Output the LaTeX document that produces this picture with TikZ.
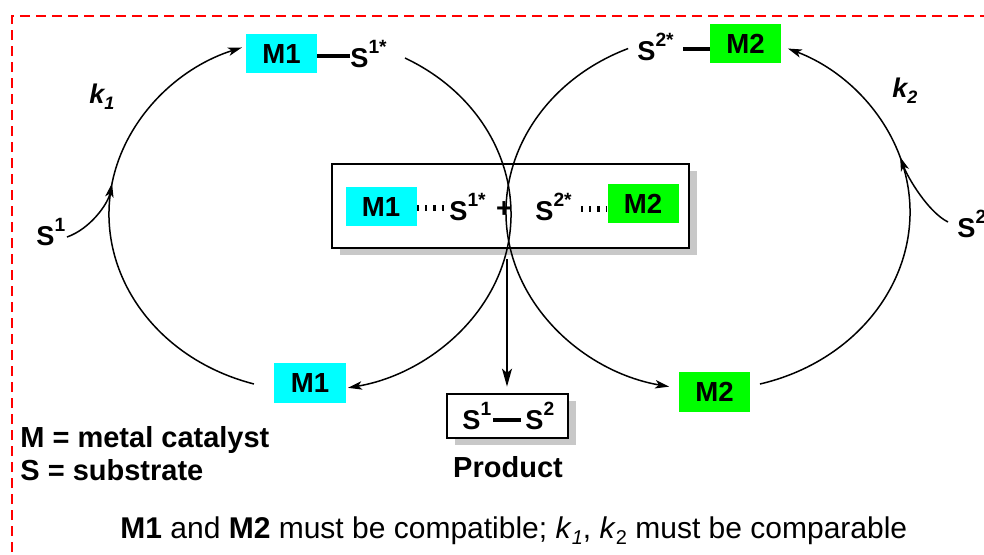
\documentclass[tikz,border=0pt]{standalone}
\usepackage{fontspec}
\setmainfont{Liberation Sans}
\usetikzlibrary{arrows.meta,shadows}
\definecolor{mcyan}{RGB}{0,255,255}
\definecolor{mgreen}{RGB}{0,255,0}
\definecolor{shadowgray}{RGB}{200,200,200}
\newcommand{\sups}[1]{\raisebox{6.6pt}{\fontsize{9.6}{10}\selectfont #1}}
\newcommand{\subsk}[1]{\raisebox{-3pt}{\fontsize{9}{10}\selectfont #1}}
\begin{document}
\begin{tikzpicture}[x=0.5pt,y=-0.5pt,
  catbox/.style={rectangle,inner sep=0pt,minimum width=35.5pt,minimum height=19.5pt,
    font=\fontsize{13.8}{15}\selectfont\bfseries},
  mone/.style={catbox,fill=mcyan},
  mtwo/.style={catbox,fill=mgreen},
  lbl/.style={inner sep=0pt,font=\fontsize{13.6}{15}\selectfont\bfseries},
  biglbl/.style={inner sep=0pt,font=\fontsize{14.5}{17}\selectfont\bfseries},
  cyc/.style={line width=0.75pt,-{Stealth[length=7pt,width=4.2pt,inset=1.8pt]}},
  bond/.style={line width=2.3pt},
  hashb/.style={line width=3.2pt,dash pattern=on 1.1pt off 3pt},
  framebox/.style={draw,line width=1pt,fill=white,rectangle,inner sep=0pt,
    drop shadow={shadow xshift=3.8pt,shadow yshift=-3.5pt,fill=shadowgray,opacity=1}},
  redframe/.style={red,line width=0.8pt,dash pattern=on 5pt off 3pt}
]
\clip (0,0) rectangle (984,554);
\fill[white] (0,0) rectangle (984,554);
% red dashed frame
\draw[redframe] (12,600) -- (12,16) -- (1000,16);

% framed boxes
\node[framebox,minimum width=178.5pt,minimum height=42pt] (cbox) at (510.5,206) {};
\node[framebox,minimum width=60.5pt,minimum height=22pt] (pbox) at (507.5,416) {};

% catalytic cycle arcs (left)
\coordinate (La) at ({310+201*cos(106.2)},{214+177*sin(106.2)});
\coordinate (Lb) at ({310+201*cos(-61.8)},{214+177*sin(-61.8)});
\draw[cyc] (La) arc[start angle=106.2,end angle=250.2,x radius=201,y radius=177];
\draw[cyc] (Lb) arc[start angle=-61.8,end angle=79.1,x radius=201,y radius=177];
% right
\coordinate (Ra) at ({708+202*cos(246.7)},{212+178*sin(246.7)});
\coordinate (Rb) at ({708+202*cos(75.1)},{212+178*sin(75.1)});
\draw[cyc] (Ra) arc[start angle=246.7,end angle=101.1,x radius=202,y radius=178];
\draw[cyc] (Rb) arc[start angle=75.1,end angle=-66.7,x radius=202,y radius=178];

% substrate entries
\coordinate (S1in) at (67,237);
\coordinate (S1on) at ({310+201*cos(190)},{214+177*sin(190)});
\draw[cyc] (S1in) .. controls (90,229) and (108,204) .. (S1on);
\coordinate (S2in) at (948,222);
\coordinate (S2on) at ({708+202*cos(-18)},{212+178*sin(-18)});
\draw[cyc] (S2in) .. controls (928,212) and (907.6,177.3) .. (S2on);

% top left
\node[mone] (M1t) at (281.5,53.5) {M1};
\node[lbl,anchor=base west] (S1t) at (350,67) {S\sups{1*}};
\draw[bond] ([yshift=-1.25pt]M1t.east) -- ([yshift=-1.25pt]M1t.east -| S1t.west);
% top right
\node[mtwo] (M2t) at (745.5,43.5) {M2};
\node[lbl,anchor=base west] (S2t) at (637,60) {S\sups{2*}};
\draw[bond] (683,49) -- ([yshift=-2.75pt]M2t.west);

% center complex
\node[mone] (M1c) at (381,206.5) {M1};
\node[lbl,anchor=base west] (S1c) at (449,220) {S\sups{1*}};
\draw[hashb] ([yshift=-0.75pt]M1c.east) -- ([yshift=-0.75pt]M1c.east -| S1c.west);
\node[lbl] (plus) at (504,210) {+};
\node[lbl,anchor=base west] (S2c) at (535,220) {S\sups{2*}};
\node[mtwo] (M2c) at (643,203.5) {M2};
\draw[hashb] ([yshift=-2.75pt]M2c.west -| 581,0) -- ([yshift=-2.75pt]M2c.west);

% regenerated catalysts
\node[mone,minimum width=36pt,minimum height=20pt] (M1b) at (310,383) {M1};
\node[mtwo,minimum width=35.5pt,minimum height=20pt] (M2b) at (714.5,392) {M2};

% product
\coordinate (X) at (507,259);
\draw[line width=0.75pt,-{Stealth[length=9pt,width=5pt,inset=2.2pt]},shorten >=3.2pt] (X) -- (X |- pbox.north);
\node[lbl,anchor=base west] (pS1) at (462,429) {S\sups{1}};
\node[lbl,anchor=base west] (pS2) at (525,429) {S\sups{2}};
\draw[bond] (493,420) -- (521,420);
\node[biglbl,anchor=base] (prod) at (508,477) {Product};

% substrates
\node[lbl,anchor=base west] (S1) at (36,245) {S\sups{1}};
\node[lbl,anchor=base west] (S2) at (957,237) {S\sups{2}};

% rate constants
\node[inner sep=0pt,anchor=base west,font=\fontsize{13.5}{15}\selectfont\bfseries\itshape] (k1) at (89,103) {k\subsk{1}};
\node[inner sep=0pt,anchor=base west,font=\fontsize{13.5}{15}\selectfont\bfseries\itshape] (k2) at (892,97) {k\subsk{2}};

% legend
\node[biglbl,anchor=base west] (leg1) at (20,447) {M = metal catalyst};
\node[biglbl,anchor=base west] (leg2) at (20,480) {S = substrate};

% footnote
\node[inner sep=0pt,anchor=base west,font=\fontsize{15}{17}\selectfont] (note) at (120,538)
  {\textbf{M1} and \textbf{M2} must be compatible; \textit{k}\raisebox{-3pt}{\fontsize{10}{11}\selectfont\itshape 1}, \textit{k}\raisebox{-3pt}{\fontsize{10}{11}\selectfont 2} must be comparable};
\end{tikzpicture}
\end{document}
